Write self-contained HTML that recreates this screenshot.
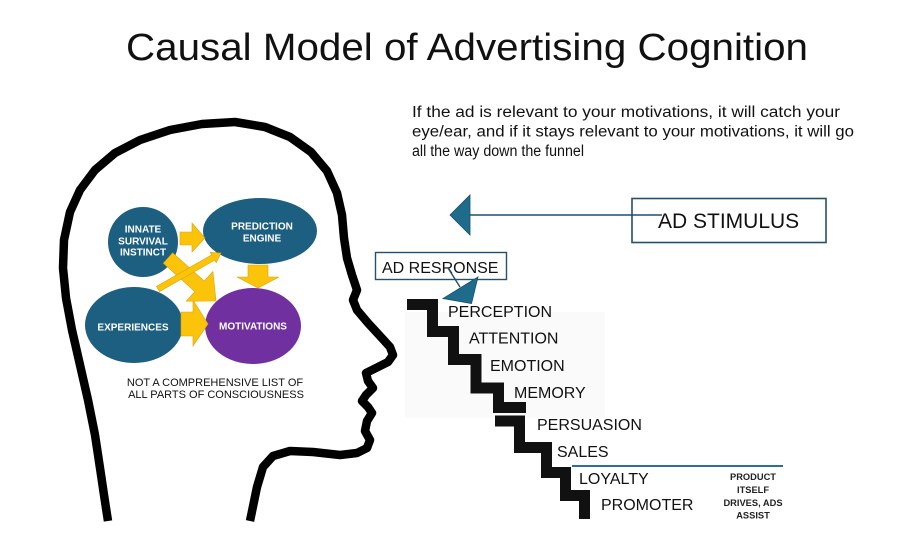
<!DOCTYPE html>
<html>
<head>
<meta charset="utf-8">
<style>
html,body{margin:0;padding:0;background:#fff;}
svg{display:block;}
text{font-family:"Liberation Sans",Arial,sans-serif;}
</style>
</head>
<body>
<svg width="900" height="533" viewBox="0 0 900 533" xmlns="http://www.w3.org/2000/svg">
<rect x="0" y="0" width="900" height="533" fill="#ffffff"/>

<!-- faint background behind staircase -->
<rect x="405" y="312" width="200" height="106" fill="#fafafa"/>

<!-- Title -->
<text x="126" y="60" font-size="38" fill="#111" textLength="682" lengthAdjust="spacingAndGlyphs">Causal Model of Advertising Cognition</text>

<!-- Subtitle -->
<text x="412" y="117" font-size="15.5" fill="#111" textLength="428" lengthAdjust="spacingAndGlyphs">If the ad is relevant to your motivations, it will catch your</text>
<text x="412" y="136.5" font-size="15.5" fill="#111" textLength="442" lengthAdjust="spacingAndGlyphs">eye/ear, and if it stays relevant to your motivations, it will go</text>
<text x="412" y="156" font-size="15.5" fill="#111" textLength="172" lengthAdjust="spacingAndGlyphs">all the way down the funnel</text>

<!-- Head outline -->
<polyline fill="none" stroke="#000" stroke-width="8.5" stroke-linejoin="round" stroke-linecap="butt"
points="108,521 104,495 100,468 95,435 88,400 80,365 72,330 66,298 63,268 64,240 70,212 80,190 95,170 115,153 140,140 170,130 202,124 235,122 265,127 290,137 311,152 327,171 337,193 342,215 344,238 347,258 352,275 357,290 353,300 357,310 368,323 380,336 390,347 393,355 388,362 376,368 366,373 368,381 373,388 366,395 362,401 368,407 372,413 367,421 365,431 370,440 367,448 357,453 340,455 313,452 290,451 273,456 263,467 257,487 250,521"/>

<!-- Circles -->
<circle cx="143" cy="242" r="35" fill="#1d5f80"/>
<ellipse cx="260" cy="231" rx="57" ry="33" fill="#1d5f80"/>
<ellipse cx="134" cy="325" rx="49" ry="38" fill="#1d5f80"/>
<ellipse cx="253" cy="326" rx="48" ry="38" fill="#7030a0"/>

<!-- Yellow arrows -->
<g fill="#fcc30b" stroke="#d9a300" stroke-width="0.6">
  <polygon points="180,232 192,232 192,223 205,238 192,252 192,245 180,245"/>
  <polygon points="248,265 268,265 268,277 279,277 258,288 237,277 248,277"/>
  <polygon points="181,312 193,312 193,300 208,324 193,346 193,336 181,336"/>
  <polygon points="172.7,252.8 204.3,281.1 212.9,271.4 216,301 186.3,301.2 194.9,291.5 163.3,263.2"/>
  <polygon points="156.5,286.4 211.7,254.9 210.2,252.3 221,253 216.2,262.7 214.7,260.1 159.5,291.6"/>
</g>

<!-- Circle labels -->
<g fill="#fff" font-weight="bold" font-size="10" text-anchor="middle">
  <text x="143" y="232.5">INNATE</text>
  <text x="143" y="244.5">SURVIVAL</text>
  <text x="143" y="255.5">INSTINCT</text>
  <text x="262" y="229.5">PREDICTION</text>
  <text x="262" y="241.5">ENGINE</text>
  <text x="133" y="330.5">EXPERIENCES</text>
  <text x="253" y="329.5">MOTIVATIONS</text>
</g>

<!-- Note -->
<g fill="#111" font-size="11" text-anchor="middle">
  <text x="215" y="386">NOT A COMPREHENSIVE LIST OF</text>
  <text x="216" y="398">ALL PARTS OF CONSCIOUSNESS</text>
</g>

<!-- AD STIMULUS box and arrow -->
<rect x="632" y="198.5" width="194" height="44" fill="none" stroke="#24506a" stroke-width="1.6"/>
<line x1="466" y1="215" x2="662" y2="215" stroke="#1f4f68" stroke-width="1.6"/>
<polygon points="450,215 470,195 470,235" fill="#1e6b8c" stroke="#1a4f6a" stroke-width="0.8"/>
<text x="658" y="228" font-size="21" fill="#111">AD STIMULUS</text>

<!-- AD RESPONSE box -->
<rect x="375.5" y="252.5" width="131" height="27" fill="#fff" stroke="#24506a" stroke-width="1.4"/>
<text x="382" y="273" font-size="16" fill="#111">AD RESRONSE</text>
<line x1="448" y1="268" x2="460" y2="287" stroke="#1f4f68" stroke-width="1.4"/>
<polygon points="478,277 443,298.5 471.5,303.5" fill="#1e6b8c" stroke="#1a4f6a" stroke-width="0.8"/>

<!-- Staircase -->
<polyline fill="none" stroke="#111" stroke-width="11" stroke-linejoin="miter" stroke-linecap="butt"
points="407,304.5 432.5,304.5 432.5,331.5 453.5,331.5 453.5,359.5 476,359.5 476,388 498.5,388 498.5,407.5 526,407.5"/>
<polyline fill="none" stroke="#111" stroke-width="11" stroke-linejoin="miter" stroke-linecap="butt"
points="495,421 519.5,421 519.5,447.5 546.5,447.5 546.5,472.5 565.5,472.5 565.5,495.5 584.5,495.5 584.5,519"/>

<!-- Stair labels -->
<g fill="#111" font-size="16">
  <text x="448" y="317">PERCEPTION</text>
  <text x="469" y="343.5">ATTENTION</text>
  <text x="490" y="371">EMOTION</text>
  <text x="514" y="398">MEMORY</text>
  <text x="537" y="430">PERSUASION</text>
  <text x="557" y="457">SALES</text>
  <text x="579" y="484">LOYALTY</text>
  <text x="601" y="510">PROMOTER</text>
</g>

<!-- Blue line -->
<line x1="572" y1="466" x2="783" y2="466" stroke="#2f6e99" stroke-width="2"/>

<!-- Product note -->
<g fill="#222" font-size="9.3" font-weight="bold" text-anchor="middle">
  <text x="753" y="480">PRODUCT</text>
  <text x="753" y="493">ITSELF</text>
  <text x="753" y="506">DRIVES, ADS</text>
  <text x="753" y="518.5">ASSIST</text>
</g>
</svg>
</body>
</html>
